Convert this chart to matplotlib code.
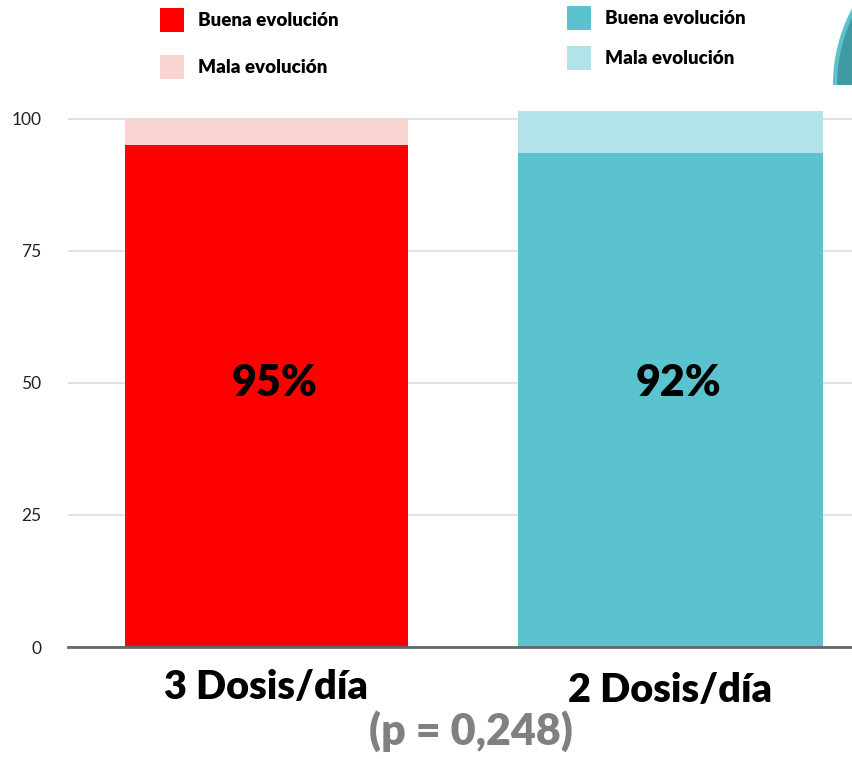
import matplotlib
matplotlib.use("Agg")
import matplotlib.pyplot as plt
from matplotlib.patches import Patch, Circle, Rectangle

categories = ["3 Dosis/día", "2 Dosis/día"]
buena = [95, 93.5]
mala = [5, 8]
labels_pct = ["95%", "92%"]
bar_widths = [0.70, 0.755]
legend_labels = ["Buena evolución", "Mala evolución"]
p_text = "(p = 0,248)"

colors_buena = ["#ff0000", "#5bc3cd"]
colors_mala = ["#f8d3cf", "#b2e3e8"]

plt.rcParams["font.family"] = ["Lato", "DejaVu Sans"]

fig = plt.figure(figsize=(8.52, 7.59), dpi=100)
W, H = 852, 759

# background overlay for the decorative circle at top-right
bg = fig.add_axes([0, 0, 1, 1])
bg.set_xlim(0, W)
bg.set_ylim(H, 0)
bg.axis("off")
clip = Rectangle((0, 0), W, 85, transform=bg.transData)
circ = Circle((996, 85), 161, facecolor="#3f9aa3", edgecolor="#5bc3cd", lw=3)
bg.add_patch(circ)
circ.set_clip_path(clip)

ax = fig.add_axes([68 / W, (H - 647) / H, (W - 68) / W, (647 - 105) / H])
x = [0, 1]
ax.bar(x, buena, width=bar_widths, color=colors_buena, zorder=2)
ax.bar(x, mala, width=bar_widths, bottom=buena, color=colors_mala, zorder=2)

ax.set_xlim(-0.491, 1.449)
ax.set_ylim(0, 102.65)
ax.set_yticks([0, 25, 50, 75, 100])
ax.set_yticklabels(["0", "25", "50", "75", "100"])
ax.tick_params(axis="y", length=0, pad=19, labelsize=12.5, labelcolor="#222222")
ax.set_xticks([])
for s in ["top", "right", "left"]:
    ax.spines[s].set_visible(False)
ax.spines["bottom"].set_color("#666666")
ax.spines["bottom"].set_linewidth(2)
ax.spines["bottom"].set_zorder(3)
ax.grid(axis="y", color="#dddddd", lw=1.2, zorder=0)
ax.set_axisbelow(True)

for xi, lab in zip(x, labels_pct):
    ax.text(xi + 0.02, 50, lab, ha="center", va="center", fontsize=31,
            fontweight="heavy", color="black", zorder=4)

for xi, cat, dy in zip(x, categories, [-7.6, -8.3]):
    ax.text(xi, dy, cat, ha="center", va="center", fontsize=28.5,
            fontweight="heavy", color="black", clip_on=False)

fig.text(471 / W, 1 - 731 / H, p_text, ha="center", va="center", fontsize=31,
         fontweight="heavy", color="#808080")

# two legends, one per group
for i, (ax0, ay0, spacing) in enumerate([(160, 8, 1.2), (567, 6, 0.85)]):
    handles = [Patch(facecolor=colors_buena[i]), Patch(facecolor=colors_mala[i])]
    leg = fig.legend(handles, legend_labels, loc="upper left",
                     bbox_to_anchor=(ax0 / W, 1 - ay0 / H),
                     bbox_transform=fig.transFigure, frameon=False,
                     borderpad=0, borderaxespad=0, handlelength=1.3,
                     handleheight=1.6, handletextpad=0.75, labelspacing=spacing,
                     prop=dict(family="Lato", weight="heavy", size=13.5))

fig.savefig("out.png", dpi=100)
